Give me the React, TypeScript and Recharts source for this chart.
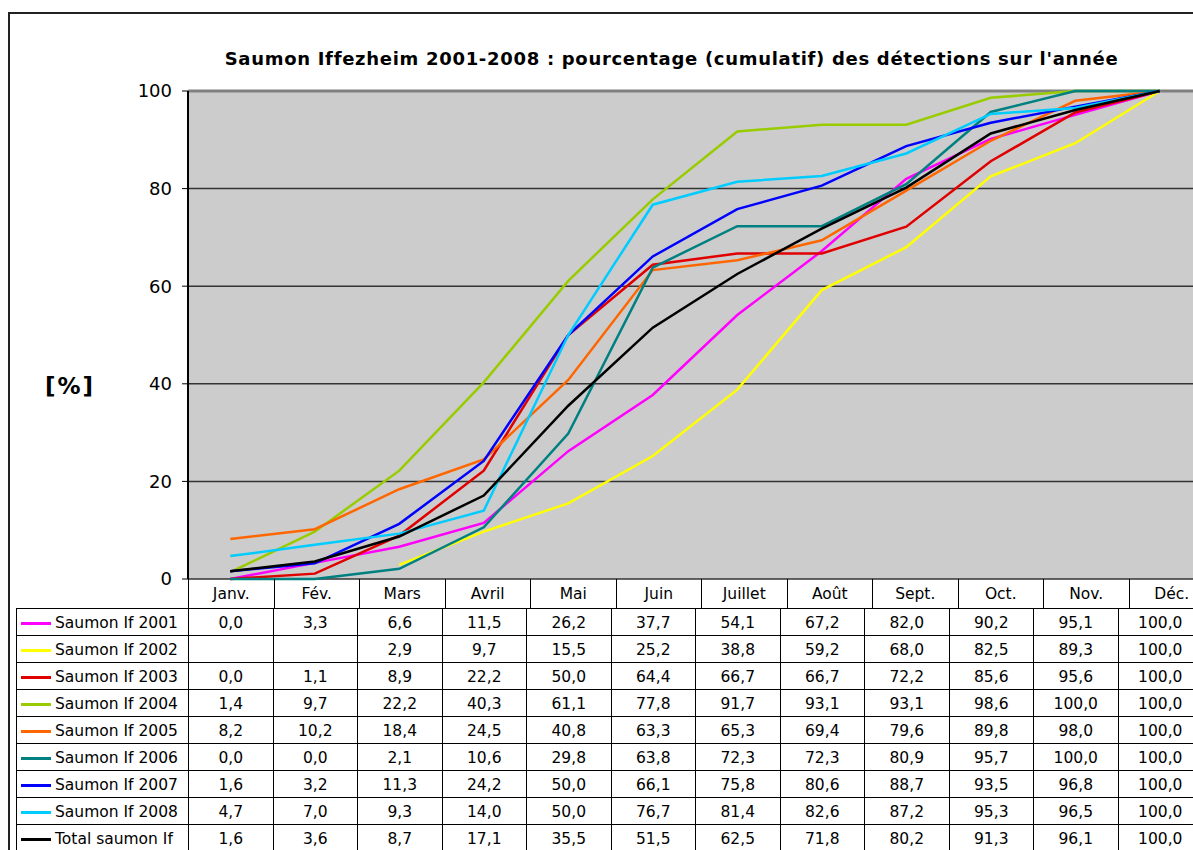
import React from 'react';
import { LineChart, Line, XAxis, YAxis, CartesianGrid, ReferenceLine } from 'recharts';

const months = ['Janv.', 'Fév.', 'Mars', 'Avril', 'Mai', 'Juin', 'Juillet', 'Août', 'Sept.', 'Oct.', 'Nov.', 'Déc.'];

const saumon2001 = [0.0, 3.3, 6.6, 11.5, 26.2, 37.7, 54.1, 67.2, 82.0, 90.2, 95.1, 100.0];
const saumon2002 = [null, null, 2.9, 9.7, 15.5, 25.2, 38.8, 59.2, 68.0, 82.5, 89.3, 100.0];
const saumon2003 = [0.0, 1.1, 8.9, 22.2, 50.0, 64.4, 66.7, 66.7, 72.2, 85.6, 95.6, 100.0];
const saumon2004 = [1.4, 9.7, 22.2, 40.3, 61.1, 77.8, 91.7, 93.1, 93.1, 98.6, 100.0, 100.0];
const saumon2005 = [8.2, 10.2, 18.4, 24.5, 40.8, 63.3, 65.3, 69.4, 79.6, 89.8, 98.0, 100.0];
const saumon2006 = [0.0, 0.0, 2.1, 10.6, 29.8, 63.8, 72.3, 72.3, 80.9, 95.7, 100.0, 100.0];
const saumon2007 = [1.6, 3.2, 11.3, 24.2, 50.0, 66.1, 75.8, 80.6, 88.7, 93.5, 96.8, 100.0];
const saumon2008 = [4.7, 7.0, 9.3, 14.0, 50.0, 76.7, 81.4, 82.6, 87.2, 95.3, 96.5, 100.0];
const saumonTotal = [1.6, 3.6, 8.7, 17.1, 35.5, 51.5, 62.5, 71.8, 80.2, 91.3, 96.1, 100.0];

const yTicks = [0, 20, 40, 60, 80, 100];

type Serie = { key: string; name: string; color: string; values: (number | null)[] };

const series: Serie[] = [
  { key: 's2001', name: 'Saumon If 2001', color: '#ff00ff', values: saumon2001 },
  { key: 's2002', name: 'Saumon If 2002', color: '#ffff00', values: saumon2002 },
  { key: 's2003', name: 'Saumon If 2003', color: '#e00000', values: saumon2003 },
  { key: 's2004', name: 'Saumon If 2004', color: '#99cc00', values: saumon2004 },
  { key: 's2005', name: 'Saumon If 2005', color: '#ff6600', values: saumon2005 },
  { key: 's2006', name: 'Saumon If 2006', color: '#008080', values: saumon2006 },
  { key: 's2007', name: 'Saumon If 2007', color: '#0000ff', values: saumon2007 },
  { key: 's2008', name: 'Saumon If 2008', color: '#00ccff', values: saumon2008 },
  { key: 'total', name: 'Total saumon If', color: '#000000', values: saumonTotal },
];

const chartData = months.map((m, i) => {
  const row: Record<string, any> = { month: m };
  series.forEach((s) => (row[s.key] = s.values[i]));
  return row;
});

const fmt = (v: number | null) => (v == null ? '' : v.toFixed(1).replace('.', ','));

const FONT = '"DejaVu Sans", Verdana, sans-serif';
const COL_W = 84.5;

const cell: React.CSSProperties = {
  border: '1px solid #000',
  padding: 0,
  paddingTop: 2,
  height: 24,
  textAlign: 'center',
  verticalAlign: 'middle',
  whiteSpace: 'nowrap',
  overflow: 'hidden',
};

export default function App() {
  return (
    <div
      style={{
        position: 'fixed',
        left: 0,
        top: 0,
        width: 1193,
        height: 850,
        overflow: 'hidden',
        background: '#fff',
        fontFamily: FONT,
        color: '#000',
      }}
    >
      {/* chart frame */}
      <div
        style={{
          position: 'absolute',
          left: 8,
          top: 12,
          width: 1300,
          height: 900,
          borderLeft: '2px solid #222',
          borderTop: '2px solid #222',
        }}
      />

      <div
        style={{
          position: 'absolute',
          left: 0,
          top: 48,
          width: 1343,
          textAlign: 'center',
          fontWeight: 'bold',
          fontSize: 18,
          letterSpacing: 0.7,
        }}
      >
        Saumon Iffezheim 2001-2008 : pourcentage (cumulatif) des détections sur l'année
      </div>

      <div
        style={{
          position: 'absolute',
          left: 45,
          top: 373,
          fontWeight: 'bold',
          fontSize: 23,
          letterSpacing: 2,
        }}
      >
        [%]
      </div>

      <div style={{ position: 'absolute', left: 0, top: 0 }}>
        <LineChart
          width={1220}
          height={600}
          data={chartData}
          margin={{ top: 91, right: 18, bottom: 21, left: 128 }}
        >
          <CartesianGrid vertical={false} stroke="#333" strokeWidth={1.5} fill="#cccccc" />
          <XAxis dataKey="month" hide padding={{ left: COL_W / 2, right: COL_W / 2 }} />
          <YAxis
            width={60}
            domain={[0, 100]}
            ticks={yTicks}
            interval={0}
            axisLine={{ stroke: '#000', strokeWidth: 2 }}
            tickLine={{ stroke: '#000' }}
            tickSize={6}
            tickMargin={10}
            tick={{ fill: '#000', fontSize: 18, fontFamily: FONT }}
          />
          <ReferenceLine y={100} stroke="#808080" strokeWidth={3} />
          {series.map((s) => (
            <Line
              key={s.key}
              dataKey={s.key}
              name={s.name}
              stroke={s.color}
              strokeWidth={2.5}
              dot={false}
              activeDot={false}
              connectNulls={false}
              isAnimationActive={false}
            />
          ))}
        </LineChart>
      </div>

      {/* month header row */}
      <table
        style={{
          position: 'absolute',
          left: 188,
          top: 579,
          borderCollapse: 'collapse',
          tableLayout: 'fixed',
          width: COL_W * 12,
          fontSize: 15.5,
          fontFamily: FONT,
        }}
      >
        <tbody>
          <tr>
            {months.map((m) => (
              <td
                key={m}
                style={{ ...cell, paddingTop: 0, height: 29, borderTop: 'none', borderBottom: 'none', width: COL_W }}
              >
                {m}
              </td>
            ))}
          </tr>
        </tbody>
      </table>

      {/* data table */}
      <table
        style={{
          position: 'absolute',
          left: 16,
          top: 608,
          borderCollapse: 'collapse',
          tableLayout: 'fixed',
          width: 172 + COL_W * 12,
          fontSize: 15.5,
          fontFamily: FONT,
        }}
      >
        <colgroup>
          <col style={{ width: 172 }} />
          {months.map((m) => (
            <col key={m} style={{ width: COL_W }} />
          ))}
        </colgroup>
        <tbody>
          {series.map((s) => (
            <tr key={s.key}>
              <td style={{ ...cell, textAlign: 'left' }}>
                <span
                  style={{
                    display: 'inline-block',
                    width: 30,
                    height: 0,
                    borderTop: `3px solid ${s.color}`,
                    verticalAlign: 'middle',
                    marginLeft: 4,
                    marginRight: 4,
                  }}
                />
                {s.name}
              </td>
              {s.values.map((v, i) => (
                <td key={i} style={cell}>
                  {fmt(v)}
                </td>
              ))}
            </tr>
          ))}
        </tbody>
      </table>
    </div>
  );
}
